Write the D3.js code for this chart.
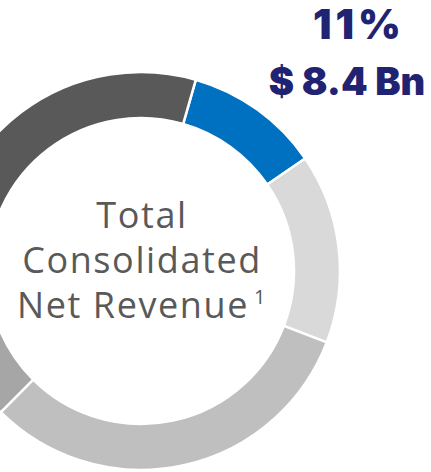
<!doctype html>
<html lang="en">
<head>
  <meta charset="utf-8">
  <title>Total Consolidated Net Revenue</title>
  <script src="https://cdn.jsdelivr.net/npm/d3@7"></script>
  <style>
    html, body { margin: 0; padding: 0; background: #fff; }
  </style>
</head>
<body>
  <div id="chart"></div>
<script>
  // segments in clockwise order, starting with the highlighted one
  const segments = ['highlight', 'seg2', 'seg3', 'seg4', 'seg5'];
  const shares = [11, 15.4, 31.6, 12.5, 29.5];
  const segColors = ['#0070c0', '#d9d9d9', '#bfbfbf', '#a6a6a6', '#595959'];
  const centerLines = ['Total', 'Consolidated', 'Net Revenue'];
  const calloutPct = '11%';
  const calloutAmt = '$ 8.4 Bn';

  const width = 431, height = 472;
  const cx = 141, cy = 271;
  const outerR = 199, innerR = 153;

  const svg = d3.select('#chart')
    .append('svg')
    .attr('width', width)
    .attr('height', height);

  const g = svg.append('g')
    .attr('transform', `translate(${cx},${cy})`);

  const startDeg = 16;
  const pie = d3.pie()
    .sort(null)
    .startAngle(startDeg * Math.PI / 180)
    .endAngle((startDeg + 360) * Math.PI / 180);

  const arc = d3.arc()
    .innerRadius(innerR)
    .outerRadius(outerR);

  const color = d3.scaleOrdinal().domain(segments).range(segColors);

  g.selectAll('path')
    .data(pie(shares))
    .enter()
    .append('path')
    .attr('d', arc)
    .attr('fill', (d, i) => color(segments[i]))
    .attr('stroke', '#fff')
    .attr('stroke-width', 2.5);

  // centre label
  const label = g.append('text')
    .attr('text-anchor', 'middle')
    .style('font-family', '"Open Sans", sans-serif')
    .style('font-size', '36px')
    .style('letter-spacing', '1.6px')
    .style('fill', '#595959');

  centerLines.forEach((t, i) => {
    const line = label.append('tspan')
      .attr('x', 1)
      .attr('y', -43 + i * 45)
      .text(t);
    if (i === centerLines.length - 1) {
      line.append('tspan')
        .attr('dx', 5)
        .attr('dy', -14)
        .style('font-size', '20px')
        .text('1');
    }
  });

  // callout
  svg.append('text')
    .attr('x', 359)
    .attr('y', 39)
    .attr('text-anchor', 'middle')
    .style('font-family', 'Inter, "Open Sans", sans-serif')
    .style('font-weight', 900)
    .style('font-size', '41px')
    .style('letter-spacing', '4px')
    .style('fill', '#1f2372')
    .text(calloutPct);

  svg.append('text')
    .attr('x', 347)
    .attr('y', 95)
    .attr('text-anchor', 'middle')
    .style('font-family', 'Inter, "Open Sans", sans-serif')
    .style('font-weight', 900)
    .style('font-size', '38px')
    .style('fill', '#1f2372')
    .text(calloutAmt);
</script>
</body>
</html>
